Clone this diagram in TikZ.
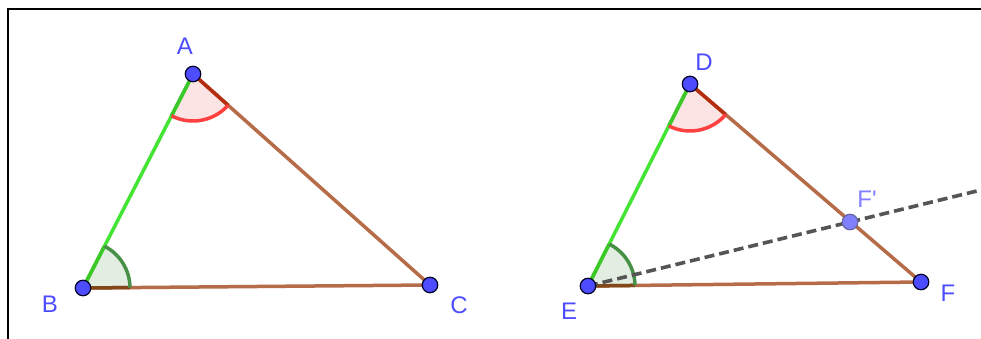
\documentclass[tikz,border=0pt]{standalone}
\usepackage{fontspec}
\setmainfont{Liberation Sans}[Ligatures=TeXOff]
\usetikzlibrary{calc}
\definecolor{ptblue}{RGB}{77,77,255}
\definecolor{ptlight}{RGB}{128,128,255}
\definecolor{segGreen}{RGB}{68,228,52}
\definecolor{segBrown}{RGB}{182,108,72}
\definecolor{angRed}{RGB}{255,64,64}
\definecolor{angRedFill}{RGB}{253,228,228}
\definecolor{angGreen}{RGB}{70,145,70}
\definecolor{angGreenFill}{RGB}{226,238,226}
\definecolor{edgeRed}{RGB}{180,45,15}
\definecolor{edgeBrown}{RGB}{130,72,25}
\definecolor{edgeGreen}{RGB}{60,200,40}
\definecolor{dashGray}{RGB}{85,85,85}
\tikzset{
  seg/.style={line width=3.5pt},
  dot/.style={circle, fill=ptblue, draw=black!85!blue, line width=1.2pt, minimum size=15.5pt, inner sep=0pt},
  dotlight/.style={circle, fill=ptlight, draw=black!60!blue!60, line width=1.2pt, minimum size=15.5pt, inner sep=0pt},
  lbl/.style={text=ptblue, font=\fontsize{24}{24}\selectfont, inner sep=0pt},
  lbllight/.style={text=ptlight, font=\fontsize{24}{24}\selectfont, inner sep=0pt},
  arcline/.style={line width=3.5pt},
  dashline/.style={line width=3.6pt, dashGray, dash pattern=on 10pt off 5pt}
}
\begin{document}
\begin{tikzpicture}[x=1pt,y=1pt]
\useasboundingbox (0,0) rectangle (981,338);
\clip (0,0) rectangle (981,338);
\fill[white] (0,0) rectangle (981,338);
% frame
\draw[line width=2.2pt, black] (8,-10) -- (8,329) -- (995,329);
% points
\coordinate (A) at (193,264);
\coordinate (B) at (83,50);
\coordinate (C) at (430,53);
\coordinate (D) at (690,254);
\coordinate (E) at (588,52);
\coordinate (F) at (921,56);
\coordinate (Fp) at (850,116);
% angle fills
\fill[angRedFill] (A) -- ++(242.79:47) arc[start angle=242.79, end angle=318.32, radius=47] -- cycle;
\fill[angGreenFill] (B) -- ++(0.5:47) arc[start angle=0.5, end angle=62.79, radius=47] -- cycle;
\fill[angRedFill] (D) -- ++(243.2:47) arc[start angle=243.2, end angle=319.4, radius=47] -- cycle;
\fill[angGreenFill] (E) -- ++(0.69:47) arc[start angle=0.69, end angle=63.2, radius=47] -- cycle;
% segments
\draw[seg, segGreen] (A) -- (B);
\draw[seg, segBrown] (B) -- (C);
\draw[seg, segBrown] (A) -- (C);
\draw[seg, segGreen] (D) -- (E);
\draw[seg, segBrown] (E) -- (F);
\draw[seg, segBrown] (D) -- (F);
% angle edges and arcs
\draw[arcline, edgeRed] (A) -- ++(318.32:47);
\draw[arcline, edgeGreen] (A) -- ++(242.79:47);
\draw[arcline, angRed] ($(A)+(242.79:47)$) arc[start angle=242.79, end angle=318.32, radius=47];
\draw[arcline, edgeBrown] (B) -- ++(0.5:47);
\draw[arcline, edgeGreen] (B) -- ++(62.79:47);
\draw[arcline, angGreen] ($(B)+(0.5:47)$) arc[start angle=0.5, end angle=62.79, radius=47];
\draw[arcline, edgeRed] (D) -- ++(319.4:47);
\draw[arcline, edgeGreen] (D) -- ++(243.2:47);
\draw[arcline, angRed] ($(D)+(243.2:47)$) arc[start angle=243.2, end angle=319.4, radius=47];
\draw[arcline, edgeBrown] (E) -- ++(0.69:47);
\draw[arcline, edgeGreen] (E) -- ++(63.2:47);
\draw[arcline, angGreen] ($(E)+(0.69:47)$) arc[start angle=0.69, end angle=63.2, radius=47];
% dashed ray
\coordinate (Rend) at ($(E)!1.6!(Fp)$);
\draw[dashline] (E) -- (Rend);
% dots
\node[dot] (nA) at (A) {};
\node[dot] (nB) at (B) {};
\node[dot] (nC) at (C) {};
\node[dot] (nD) at (D) {};
\node[dot] (nE) at (E) {};
\node[dot] (nF) at (F) {};
\node[dotlight] (nFp) at (Fp) {};
% labels
\node[lbl] (lA) at (185,292) {A};
\node[lbl] (lB) at (50,34) {B};
\node[lbl] (lC) at (459,33) {C};
\node[lbl] (lD) at (704,276) {D};
\node[lbl] (lE) at (569,27) {E};
\node[lbl] (lF) at (948,45) {F};
\node[lbllight] (lFp) at (867,139) {F'};
\end{tikzpicture}
\end{document}
